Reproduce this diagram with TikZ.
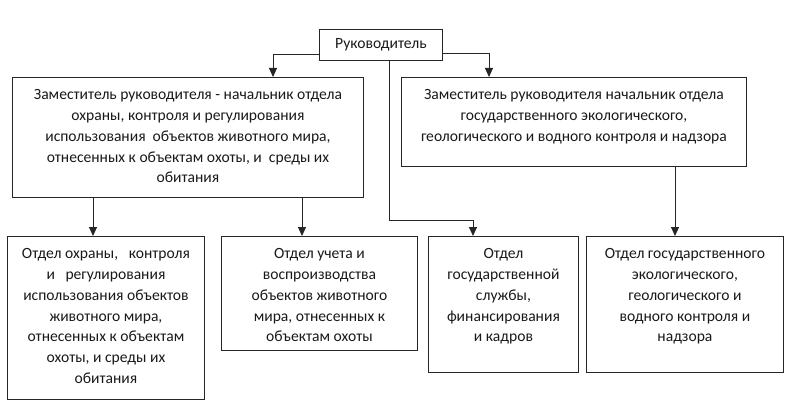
\documentclass[tikz,border=0pt]{standalone}
\usepackage{fontspec}
\setmainfont{Carlito}
\usetikzlibrary{arrows.meta}
\begin{document}
\begin{tikzpicture}[x=1pt,y=-1pt,
  boxn/.style={draw=black!85, line width=0.9pt, inner sep=0pt, anchor=north west},
  txt/.style={inner sep=0pt, anchor=north, align=center, text=black!90, font=\fontsize{15.6}{20.9}\selectfont},
  conn/.style={draw=black!85, line width=0.9pt, -{Triangle[length=9pt,width=8pt]}}
]
\useasboundingbox (0,0) rectangle (795,412);
% boxes
\node[boxn, minimum width=123pt, minimum height=31pt] (top) at (319,29) {};
\node[txt, anchor=center] at (top.center) {Руководитель};

\node[boxn, minimum width=351pt, minimum height=120pt] (dl) at (12,77) {};
\node[txt] at ([yshift=-12pt]dl.north) {Заместитель руководителя - начальник отдела\\охраны, контроля и регулирования\\использования\ \ объектов животного мира,\\отнесенных к объектам охоты, и\ \ среды их\\обитания};

\node[boxn, minimum width=345pt, minimum height=89pt] (dr) at (401,77) {};
\node[txt] at ([yshift=-12pt]dr.north) {Заместитель руководителя начальник отдела\\государственного экологического,\\геологического и водного контроля и надзора};

\node[boxn, minimum width=197pt, minimum height=163pt] (b1) at (7,236) {};
\node[txt] at ([yshift=-12pt]b1.north) {Отдел охраны,\ \ \ контроля\\и\ \ \ регулирования\\использования объектов\\животного мира,\\отнесенных к объектам\\охоты, и среды их\\обитания};

\node[boxn, minimum width=196pt, minimum height=114pt] (b2) at (221,236) {};
\node[txt] at ([yshift=-12pt]b2.north) {Отдел учета и\\воспроизводства\\объектов животного\\мира, отнесенных к\\объектам охоты};

\node[boxn, minimum width=150pt, minimum height=136pt] (b3) at (428,236) {};
\node[txt] at ([yshift=-12pt]b3.north) {Отдел\\государственной\\службы,\\финансирования\\и кадров};

\node[boxn, minimum width=197pt, minimum height=136pt] (b4) at (586,236) {};
\node[txt] at ([yshift=-12pt]b4.north) {Отдел государственного\\экологического,\\геологического и\\водного контроля и\\надзора};

% connectors
\draw[conn] ([yshift=-10pt]top.west) -| ([xshift=261pt]dl.north west);
\draw[conn] ([yshift=-9pt]top.east) -| ([xshift=88pt]dr.north west);
\coordinate (cbend) at (389,220);
\draw[conn] (top.south -| cbend) -- (cbend) -| ([xshift=45pt]b3.north west);
\draw[conn] (dl.south -| 93,0) -- (b1.north -| 93,0);
\draw[conn] (dl.south -| 302,0) -- (b2.north -| 302,0);
\draw[conn] (dr.south -| 675,0) -- (b4.north -| 675,0);
\end{tikzpicture}
\end{document}
